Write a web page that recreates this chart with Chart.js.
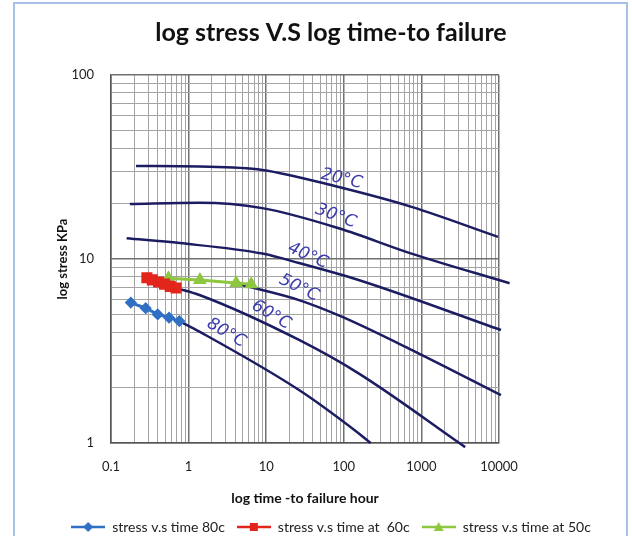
<!DOCTYPE html>
<html>
<head>
<meta charset="utf-8">
<title>log stress V.S log time-to failure</title>
<script src="https://cdn.jsdelivr.net/npm/chart.js@4.4.1/dist/chart.umd.min.js"></script>
<style>
  html, body { margin: 0; padding: 0; background: #fff; }
  #grafico { display: block; }
</style>
</head>
<body>
<canvas id="grafico" width="632" height="536"></canvas>
<script>
// datos medidos (horas, KPa)
const time80 = [0.18, 0.28, 0.4, 0.56, 0.76];
const stress80 = [5.8, 5.4, 5.0, 4.8, 4.6];
const time60 = [0.29, 0.34, 0.41, 0.49, 0.58, 0.69];
const stress60 = [7.9, 7.7, 7.5, 7.3, 7.1, 6.95];
const time50 = [0.55, 1.4, 4.1, 6.4];
const stress50 = [7.85, 7.7, 7.4, 7.3];

// curvas dibujadas a mano
const c20Time = [0.21, 1.38, 8.9, 86, 745, 9700];
const c20Stress = [32, 31.8, 30.5, 24.6, 19.2, 13.2];
const c30Time = [0.175, 1.38, 8.9, 86, 745, 13700];
const c30Stress = [19.9, 20.2, 18.9, 14.7, 10.7, 7.38];
const c40Time = [0.159, 0.77, 8.9, 26.5, 155, 10600];
const c40Stress = [12.96, 12.2, 10.7, 9.51, 7.69, 4.11];
const c50Time = [4.9, 26.5, 94, 838, 10600];
const c50Stress = [7.22, 5.98, 4.86, 3.13, 1.82];
const c60Time = [0.69, 1.38, 26.5, 155, 3660];
const c60Stress = [6.95, 6.37, 3.63, 2.39, 0.95];
const c80Time = [0.76, 1.38, 26.5, 155, 222];
const c80Stress = [4.6, 4.03, 1.94, 1.13, 1.0];

// etiquetas de las curvas
const curveLabels = ["20°C", "30°C", "40°C", "50°C", "60°C", "80°C"];
const labelTime = [94, 79, 34.5, 26.5, 11.6, 3.07];
const labelStress = [27.2, 17.1, 10.4, 6.96, 4.96, 3.96];

// ticks
const xDecadas = [0.1, 1, 10, 100, 1000, 10000];
const yDecadas = [1, 10, 100];

const toPoints = (xs, ys) => xs.map((x, i) => ({ x: x, y: ys[i] }));

function gridValues(decadas) {
  const vals = [];
  for (let i = 0; i < decadas.length - 1; i++) {
    for (let m = 1; m < 10; m++) vals.push(+(decadas[i] * m).toPrecision(4));
  }
  vals.push(decadas[decadas.length - 1]);
  return vals;
}
const isDecada = (v) => Math.abs(Math.log10(v) - Math.round(Math.log10(v))) < 1e-6;

function makeIcon(color, style) {
  const cv = document.createElement("canvas");
  cv.width = 34;
  cv.height = 12;
  const ctx = cv.getContext("2d");
  ctx.strokeStyle = color;
  ctx.fillStyle = color;
  ctx.lineWidth = 2.5;
  ctx.beginPath();
  ctx.moveTo(0, 6);
  ctx.lineTo(34, 6);
  ctx.stroke();
  ctx.beginPath();
  if (style === "rectRot") {
    ctx.moveTo(17, 1); ctx.lineTo(22, 6); ctx.lineTo(17, 11); ctx.lineTo(12, 6);
  } else if (style === "rect") {
    ctx.rect(13, 2, 8, 8);
  } else {
    ctx.moveTo(17, 1); ctx.lineTo(22, 10); ctx.lineTo(12, 10);
  }
  ctx.closePath();
  ctx.fill();
  return cv;
}

const colores = ["#2f6fc4", "#e3261c", "#8dc63f"];
const estilos = ["rectRot", "rect", "triangle"];
const iconos = colores.map((c, i) => makeIcon(c, estilos[i]));

const tinta = "#1c1c62";
function curva(xs, ys) {
  return {
    data: toPoints(xs, ys),
    borderColor: tinta,
    borderWidth: 2.5,
    pointRadius: 0,
    cubicInterpolationMode: "monotone",
    clip: false,
  };
}

// etiquetas escritas a mano + marco
const manoPlugin = {
  id: "mano",
  beforeDraw(chart) {
    const ctx = chart.ctx;
    ctx.save();
    ctx.strokeStyle = "#a9c1e8";
    ctx.lineWidth = 2;
    ctx.strokeRect(14, 3, 613, 545);
    ctx.restore();
  },
  afterDatasetsDraw(chart) {
    const ctx = chart.ctx;
    const angulos = [13, 20, 24, 26, 30, 30];
    ctx.save();
    ctx.fillStyle = "#3c3cae";
    ctx.font = "italic 17px 'DejaVu Sans'";
    ctx.textAlign = "center";
    ctx.textBaseline = "middle";
    curveLabels.forEach((txt, i) => {
      const px = chart.scales.x.getPixelForValue(labelTime[i]);
      const py = chart.scales.y.getPixelForValue(labelStress[i]);
      ctx.save();
      ctx.translate(px, py);
      ctx.rotate((angulos[i] * Math.PI) / 180);
      ctx.fillText(txt, 0, 0);
      ctx.restore();
    });
    ctx.restore();
  },
};

const gridColor = (c) => (c.tick && isDecada(c.tick.value) ? "#707070" : "#a4a4a4");
const gridWidth = (c) => (c.tick && isDecada(c.tick.value) ? 1.5 : 1);

new Chart(document.getElementById("grafico"), {
  type: "line",
  data: {
    datasets: [
      {
        label: "stress v.s time 80c",
        data: toPoints(time80, stress80),
        borderColor: colores[0],
        backgroundColor: colores[0],
        borderWidth: 3,
        pointStyle: "rectRot",
        pointRadius: 4,
      },
      {
        label: "stress v.s time at  60c",
        data: toPoints(time60, stress60),
        borderColor: colores[1],
        backgroundColor: colores[1],
        borderWidth: 4,
        pointStyle: "rect",
        pointRadius: 5,
      },
      {
        label: "stress v.s time at 50c",
        data: toPoints(time50, stress50),
        borderColor: colores[2],
        backgroundColor: colores[2],
        borderWidth: 3,
        pointStyle: "triangle",
        pointRadius: 5,
      },
      curva(c20Time, c20Stress),
      curva(c30Time, c30Stress),
      curva(c40Time, c40Stress),
      curva(c50Time, c50Stress),
      curva(c60Time, c60Stress),
      curva(c80Time, c80Stress),
    ],
  },
  options: {
    responsive: false,
    animation: false,
    devicePixelRatio: 1,
    layout: { padding: { left: 30, right: 0, top: 0, bottom: 0 } },
    plugins: {
      title: {
        display: true,
        text: "log stress V.S log time-to failure",
        font: { family: "Lato", size: 25, weight: "bold" },
        color: "#111",
        padding: { top: 18, bottom: 27 },
      },
      legend: {
        position: "bottom",
        maxHeight: 28,
        labels: {
          usePointStyle: true,
          pointStyleWidth: 34,
          padding: 12,
          color: "#222",
          font: { family: "Lato", size: 14 },
          generateLabels(chart) {
            const items = Chart.defaults.plugins.legend.labels.generateLabels(chart);
            return items
              .filter((it) => it.datasetIndex < 3)
              .map((it) => ({ ...it, pointStyle: iconos[it.datasetIndex] }));
          },
        },
      },
      tooltip: { enabled: false },
    },
    scales: {
      x: {
        type: "logarithmic",
        min: 0.1,
        max: 10000,
        afterBuildTicks(s) {
          s.ticks = gridValues(xDecadas).map((v) => ({ value: v }));
        },
        afterFit(s) {
          s.height = 65;
        },
        grid: { drawTicks: false, color: gridColor, lineWidth: gridWidth },
        border: { color: "#555", width: 1.5 },
        ticks: {
          autoSkip: false,
          maxRotation: 0,
          padding: 16,
          color: "#222",
          font: { family: "Lato", size: 13 },
          callback: (v) => (isDecada(v) ? String(v) : ""),
        },
        title: {
          display: true,
          text: "log time -to failure hour",
          color: "#111",
          font: { family: "Lato", size: 14, weight: "bold" },
          padding: { top: 0, bottom: 1 },
        },
      },
      y: {
        type: "logarithmic",
        position: "left",
        min: 1,
        max: 100,
        afterBuildTicks(s) {
          s.ticks = gridValues(yDecadas).map((v) => ({ value: v }));
        },
        afterFit(s) {
          s.width = 81;
        },
        grid: { drawTicks: false, color: gridColor, lineWidth: gridWidth },
        border: { color: "#555", width: 1.5 },
        ticks: {
          autoSkip: false,
          padding: 17,
          color: "#222",
          font: { family: "Lato", size: 13 },
          callback: (v) => (isDecada(v) ? String(v) : ""),
        },
        title: {
          display: true,
          text: "log stress KPa",
          color: "#111",
          font: { family: "Lato", size: 13, weight: "bold" },
          padding: { top: 25, bottom: 0 },
        },
      },
      derecha: {
        type: "linear",
        position: "right",
        display: true,
        grid: { display: false },
        border: { display: false },
        ticks: { display: false },
        afterFit(s) {
          s.width = 133;
        },
      },
    },
  },
  plugins: [manoPlugin],
});
</script>
</body>
</html>
